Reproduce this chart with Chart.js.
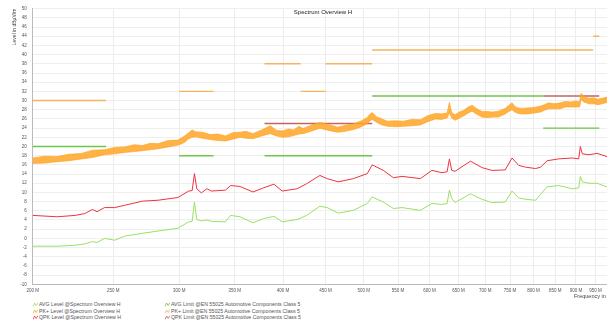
<!DOCTYPE html>
<html>
<head>
<meta charset="utf-8">
<script src="https://cdn.jsdelivr.net/npm/chart.js@4/dist/chart.umd.min.js"></script>
<style>
	body { margin: 0; width: 607px; height: 322px; overflow: hidden; background: #fff; font-family: "Liberation Sans", Arial, sans-serif; }
	#wrap { position: relative; width: 622px; height: 322px; }
	#spectrumChart { position: absolute; left: 0; top: 0; }
	#chartTitle { position: absolute; left: 323px; top: 9px; transform: translateX(-50%); font-size: 6px; color: #222; white-space: nowrap; }
	.lg { position: absolute; font-size: 5.2px; line-height: 6px; color: #555; white-space: nowrap; }
	.lg svg { vertical-align: -1px; margin-right: 1px; }
</style>
</head>
<body>
<div id="wrap">
	<canvas id="spectrumChart" width="622" height="300"></canvas>
	<div id="chartTitle">Spectrum Overview H</div>
	<div id="legend"></div>
</div>
<script>
// 주파수 축 눈금 (MHz)
const xTicks = [200, 250, 300, 350, 400, 450, 500, 550, 600, 650, 700, 750, 800, 850, 900, 950];

// QPK / AVG 측정값 (MHz, dBµV/m)
const traceFreq = [200, 214, 225, 231, 236, 239, 244, 251, 258, 271, 283, 299, 308, 311, 313, 315, 319, 324, 328, 341, 346, 355, 368, 379, 390, 399, 416, 427, 443, 452, 466, 486, 505, 512, 528, 543, 556, 585, 604, 621, 630, 634, 638, 644, 672, 694, 713, 740, 754, 768, 783, 805, 816, 831, 858, 891, 907, 911, 916, 933, 954, 981];
const qpkLevel = [5.0, 4.7, 5.0, 5.4, 6.3, 5.8, 6.7, 6.7, 7.2, 8.1, 8.3, 8.9, 10.3, 10.4, 14.1, 10.8, 9.9, 10.8, 10.3, 10.5, 11.5, 11.3, 10.1, 11.0, 11.8, 10.3, 10.8, 11.9, 13.7, 13.0, 12.3, 13.0, 14.1, 16.0, 14.8, 13.2, 13.5, 13.0, 14.8, 14.3, 14.5, 17.3, 14.8, 14.6, 16.8, 15.4, 14.8, 14.9, 17.5, 15.9, 15.5, 15.2, 15.5, 16.9, 17.3, 17.5, 17.3, 20.0, 18.4, 18.2, 18.5, 17.8];
const avgLevel = [-1.7, -1.7, -1.5, -1.2, -0.7, -0.9, 0.0, -0.4, 0.5, 1.1, 1.6, 2.2, 3.6, 3.7, 7.9, 4.1, 3.8, 4.0, 3.7, 3.6, 5.0, 4.7, 3.4, 4.3, 4.8, 3.6, 4.1, 5.0, 7.0, 6.7, 5.5, 6.1, 7.6, 9.0, 7.9, 6.5, 6.7, 6.1, 7.6, 7.4, 7.6, 10.5, 8.7, 7.8, 9.7, 8.5, 7.8, 7.9, 10.3, 8.8, 8.5, 8.3, 9.6, 11.2, 11.5, 10.8, 11.0, 13.5, 12.3, 12.0, 12.0, 11.2];

// PK+ 측정값: 노이즈 대역의 위/아래 가장자리
const pkFreq = [200, 207, 214, 221, 229, 236, 244, 251, 258, 265, 271, 277, 283, 291, 299, 304, 308, 311, 314, 320, 327, 334, 341, 348, 355, 361, 368, 377, 386, 393, 400, 406, 412, 418, 423, 433, 443, 454, 465, 475, 486, 497, 505, 509, 512, 518, 526, 534, 546, 558, 571, 585, 597, 610, 620, 630, 634, 638, 644, 652, 660, 668, 675, 684, 694, 704, 715, 726, 740, 747, 754, 760, 767, 775, 788, 802, 816, 825, 834, 848, 862, 874, 887, 900, 909, 913, 920, 933, 945, 956, 968, 981];
const pkUpper = [17.5, 17.9, 17.8, 18.3, 18.5, 19.2, 19.3, 19.8, 19.9, 20.4, 20.2, 20.7, 20.6, 21.3, 21.4, 22.2, 23.0, 23.6, 23.2, 23.1, 22.6, 22.7, 22.3, 23.0, 23.1, 23.3, 22.8, 23.6, 24.5, 23.5, 23.4, 23.8, 23.6, 24.4, 23.9, 24.7, 25.2, 24.8, 24.2, 24.6, 24.9, 25.6, 26.3, 27.1, 27.4, 26.5, 26.0, 25.5, 25.6, 25.5, 25.9, 25.8, 26.7, 27.2, 27.1, 27.3, 29.6, 27.4, 26.9, 27.5, 27.9, 28.6, 29.0, 28.2, 27.6, 27.6, 27.5, 27.7, 28.3, 28.9, 29.5, 28.7, 28.4, 28.3, 28.4, 28.5, 28.8, 29.1, 29.5, 29.3, 29.5, 29.8, 29.7, 29.9, 29.7, 31.6, 30.9, 30.5, 30.6, 30.3, 30.5, 30.8];
const pkLower = [16.3, 16.4, 16.7, 16.9, 17.3, 17.6, 18.2, 18.4, 18.7, 18.9, 19.1, 19.3, 19.5, 19.9, 20.3, 20.8, 21.7, 22.0, 22.1, 21.8, 21.5, 21.3, 21.2, 21.6, 22.0, 21.8, 21.7, 22.3, 22.8, 22.3, 22.0, 22.1, 22.4, 22.7, 22.8, 23.4, 24.0, 23.5, 23.1, 23.3, 23.7, 24.3, 25.0, 25.6, 25.9, 25.3, 24.7, 24.4, 24.3, 24.4, 24.5, 24.7, 25.4, 26.0, 25.9, 26.2, 27.4, 26.2, 25.7, 26.2, 26.7, 27.3, 27.7, 27.0, 26.4, 26.3, 26.4, 26.4, 27.1, 27.6, 28.0, 27.5, 27.2, 27.1, 27.1, 27.3, 27.5, 27.9, 28.2, 28.2, 28.2, 28.6, 28.6, 28.6, 28.6, 30.2, 29.7, 29.3, 29.3, 29.1, 29.3, 29.6];

// EN 55025 Class 5 한계선 [시작 MHz, 끝 MHz, dBµV/m]
const avgLimitBands = [[200, 245, 20], [300, 330, 18], [380, 512, 18], [512, 822, 31], [822, 960, 24]];
const pkLimitBands = [[200, 245, 30], [300, 330, 32], [380, 420, 38], [420, 450, 32], [450, 512, 38], [512, 944, 41], [944, 960, 44]];
const qpkLimitBands = [[380, 512, 25], [822, 960, 31]];

const toPoints = (xs, ys) => xs.map((x, i) => ({ x: x, y: ys[i] }));

function bandPoints(bands) {
	const pts = [];
	bands.forEach(([from, to, level], i) => {
		if (i > 0) pts.push({ x: from, y: null });
		pts.push({ x: from, y: level }, { x: to, y: level });
	});
	return pts;
}

const colors = {
	avg: '#9be063',
	pk: '#ffa526',
	qpk: '#ee3340',
	avgLimit: '#6cc64a',
	pkLimit: '#f7b25c',
	qpkLimit: '#c46464'
};

// 범례 (2열 3행)
const legendItems = [
	['AVG Level @Spectrum Overview H', colors.avg, 33, 301],
	['PK+ Level @Spectrum Overview H', colors.pk, 33, 307.5],
	['QPK Level @Spectrum Overview H', colors.qpk, 33, 314],
	['AVG Limit @EN 55025 Automotive Components Class 5', colors.avgLimit, 165, 301],
	['PK+ Limit @EN 55025 Automotive Components Class 5', colors.pkLimit, 165, 307.5],
	['QPK Limit @EN 55025 Automotive Components Class 5', colors.qpkLimit, 165, 314]
];
const legendBox = document.getElementById('legend');
legendItems.forEach(([label, color, left, top]) => {
	const item = document.createElement('div');
	item.className = 'lg';
	item.style.left = left + 'px';
	item.style.top = top + 'px';
	item.innerHTML = '<svg width="5" height="5"><polyline points="0,4.5 1.6,1 3.2,3.5 5,0.5" fill="none" stroke="' + color + '" stroke-width="0.8"/></svg>' + label;
	legendBox.appendChild(item);
});

function lineSet(label, data, color, width) {
	return { label, data, borderColor: color, backgroundColor: color, borderWidth: width, pointRadius: 0, tension: 0, spanGaps: false, fill: false };
}

const pkTop = lineSet('PK+ Level @Spectrum Overview H', toPoints(pkFreq, pkUpper), colors.pk, 0.7);
pkTop.fill = '+1';
pkTop.backgroundColor = 'rgba(255, 165, 38, 0.85)';

new Chart(document.getElementById('spectrumChart'), {
	type: 'line',
	data: {
		datasets: [
			lineSet('AVG Level @Spectrum Overview H', toPoints(traceFreq, avgLevel), colors.avg, 1),
			pkTop,
			lineSet('PK+ Level (lower)', toPoints(pkFreq, pkLower), colors.pk, 0.7),
			lineSet('QPK Level @Spectrum Overview H', toPoints(traceFreq, qpkLevel), colors.qpk, 1),
			lineSet('AVG Limit @EN 55025 Automotive Components Class 5', bandPoints(avgLimitBands), colors.avgLimit, 1.4),
			lineSet('PK+ Limit @EN 55025 Automotive Components Class 5', bandPoints(pkLimitBands), colors.pkLimit, 1.4),
			lineSet('QPK Limit @EN 55025 Automotive Components Class 5', bandPoints(qpkLimitBands), colors.qpkLimit, 1.4)
		]
	},
	options: {
		responsive: false,
		animation: false,
		layout: { padding: { top: 7, right: 8, left: 0, bottom: 0 } },
		plugins: {
			legend: { display: false },
			tooltip: { enabled: false },
			filler: { propagate: false }
		},
		scales: {
			x: {
				type: 'logarithmic',
				min: 200,
				max: 1000,
				afterBuildTicks: function(scale) {
					scale.ticks = xTicks.map(v => ({ value: v }));
				},
				afterFit: function(scale) {
					scale.height = 15.7;
				},
				ticks: {
					autoSkip: false,
					maxRotation: 0,
					padding: 4,
					color: '#555',
					font: { size: 4.5 },
					callback: function(value) {
						return value + ' M';
					}
				},
				grid: { color: '#ececec', drawTicks: false },
				border: { color: '#bbb' },
				title: {
					display: true,
					text: 'Frequency in Hz',
					align: 'end',
					padding: 0,
					color: '#444',
					font: { size: 5.5 }
				}
			},
			y: {
				min: -10,
				max: 50,
				afterFit: function(scale) {
					scale.width = 32.7;
				},
				ticks: {
					stepSize: 2,
					padding: 6,
					color: '#555',
					font: { size: 4.5 }
				},
				grid: { color: '#efefef', drawTicks: false },
				border: { color: '#bbb' },
				title: {
					display: true,
					text: 'Level in dBµV/m',
					align: 'end',
					padding: { top: 12, bottom: 0 },
					color: '#444',
					font: { size: 5 }
				}
			}
		}
	}
});
</script>
</body>
</html>
